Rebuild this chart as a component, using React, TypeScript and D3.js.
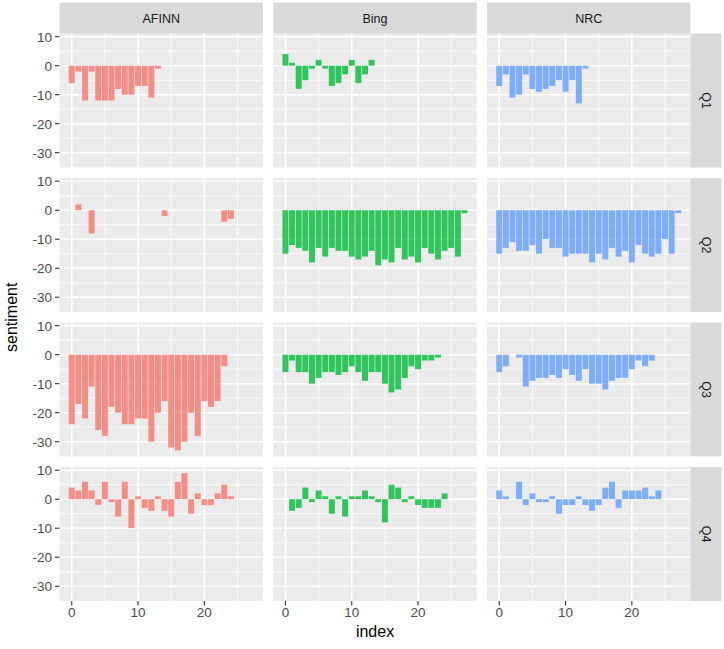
import React from "react";
import * as d3 from "d3";

const lexicons = ["AFINN", "Bing", "NRC"];
const quarters = ["Q1", "Q2", "Q3", "Q4"];
const lexColors = ["#F8766D", "#00BA38", "#619CFF"];

// values by index (null = no bar)
const afinnQ1 = [-6, -2, -12, -2, -12, -12, -12, -8, -10, -10, -7, -7, -11, -1];
const bingQ1 = [4, 1, -8, -5, -1, 2, -1, -7, -6, -3, 2, -6, -3, 2];
const nrcQ1 = [-7, -3, -11, -10, -3, -8, -9, -8, -7, -5, -9, -5, -13, -1];

const afinnQ2 = [null, 2, null, -8, null, null, null, null, null, null, null, null, null, null, -2, null, null, null, null, null, null, null, null, -4, -3];
const bingQ2 = [-15, -12, -13, -14, -18, -13, -16, -13, -14, -14, -16, -17, -16, -14, -19, -17, -18, -13, -17, -16, -18, -13, -15, -17, -14, -13, -16, -1];
const nrcQ2 = [-15, -13, -11, -14, -14, -12, -15, -10, -13, -13, -16, -15, -15, -15, -18, -15, -17, -13, -16, -14, -18, -12, -15, -16, -15, -10, -15, -1];

const afinnQ3 = [-24, -17, -22, -11, -26, -28, -18, -20, -24, -24, -22, -22, -30, -20, -16, -32, -33, -30, -20, -28, -16, -18, -16, -4];
const bingQ3 = [-6, -2, -6, -6, -10, -8, -6, -6, -7, -6, -4, -6, -9, -6, -6, -10, -13, -12, -8, -4, -5, -2, -2, -1];
const nrcQ3 = [-6, -4, null, -1, -11, -9, -8, -8, -7, -8, -5, -7, -9, -5, -10, -10, -12, -9, -8, -8, -5, -2, -4, -2];

const afinnQ4 = [4, 3, 6, 3, -2, 6, -1, -6, 6, -10, 1, -3, -4, 1, -4, -6, 6, 9, -5, 2, -2, -2, 2, 5, 1];
const bingQ4 = [null, -4, -3, 4, -1, 3, 1, -5, 1, -6, 1, 1, 3, 1, -1, -8, 5, 4, -1, 1, -2, -3, -3, -3, 2];
const nrcQ4 = [3, 1, null, 6, -2, 2, -1, -1, 1, -5, -2, -2, 1, -2, -4, -2, 4, 6, -3, 3, 3, 3, 4, 1, 3];

const panelValues = [
  [afinnQ1, bingQ1, nrcQ1],
  [afinnQ2, bingQ2, nrcQ2],
  [afinnQ3, bingQ3, nrcQ3],
  [afinnQ4, bingQ4, nrcQ4],
];

const yTicks = [-30, -20, -10, 0, 10];
const yMinor = [-25, -15, -5, 5];
const xTicks = [0, 10, 20];
const xMinor = [5, 15, 25];

const W = 724;
const H = 649;
const colLeft = [59.5, 273.2, 487];
const panelW = 203.5;
const rowTop = [33.5, 178, 322.5, 467];
const panelH = 134;
const stripSize = 31;

export default function App() {
  const allVals = panelValues.flat(2).filter((v) => v !== null) as number[];
  const maxIdx = d3.max(panelValues.flat(1), (a) => a.length - 1) as number;
  const xLo = -0.45, xHi = maxIdx + 0.45;
  const xPad = (xHi - xLo) * 0.05;
  const yLo = Math.min(0, d3.min(allVals) as number);
  const yHi = Math.max(0, d3.max(allVals) as number);
  const yPad = (yHi - yLo) * 0.05;

  const font = "'Liberation Sans', Arial, Helvetica, sans-serif";

  const panels: React.ReactNode[] = [];
  quarters.forEach((q, r) => {
    const y = d3.scaleLinear().domain([yLo - yPad, yHi + yPad]).range([rowTop[r] + panelH, rowTop[r]]);
    lexicons.forEach((lex, c) => {
      const x = d3.scaleLinear().domain([xLo - xPad, xHi + xPad]).range([colLeft[c], colLeft[c] + panelW]);
      const vals = panelValues[r][c];
      const bw = x(0.9) - x(0);
      panels.push(
        <g key={`p-${r}-${c}`}>
          <rect x={colLeft[c]} y={rowTop[r]} width={panelW} height={panelH} fill="#EBEBEB" />
          {yMinor.map((t) => (
            <line key={`ym${t}`} x1={colLeft[c]} x2={colLeft[c] + panelW} y1={y(t)} y2={y(t)} stroke="#FFFFFF" strokeWidth={0.8} />
          ))}
          {xMinor.map((t) => (
            <line key={`xm${t}`} x1={x(t)} x2={x(t)} y1={rowTop[r]} y2={rowTop[r] + panelH} stroke="#FFFFFF" strokeWidth={0.8} />
          ))}
          {yTicks.map((t) => (
            <line key={`yM${t}`} x1={colLeft[c]} x2={colLeft[c] + panelW} y1={y(t)} y2={y(t)} stroke="#FFFFFF" strokeWidth={1.6} />
          ))}
          {xTicks.map((t) => (
            <line key={`xM${t}`} x1={x(t)} x2={x(t)} y1={rowTop[r]} y2={rowTop[r] + panelH} stroke="#FFFFFF" strokeWidth={1.6} />
          ))}
          {vals.map((v, i) =>
            v === null || v === 0 ? null : (
              <rect
                key={`b${i}`}
                x={x(i - 0.45)}
                width={bw}
                y={y(Math.max(0, v))}
                height={Math.abs(y(v) - y(0))}
                fill={lexColors[c]}
                fillOpacity={0.8}
              />
            )
          )}
        </g>
      );
    });
    panels.push(
      <g key={`ya-${r}`}>
        {yTicks.map((t) => (
          <g key={t}>
            <line x1={colLeft[0] - 4.5} x2={colLeft[0]} y1={y(t)} y2={y(t)} stroke="#333333" strokeWidth={1.1} />
            <text x={colLeft[0] - 7.5} y={y(t)} dy="0.36em" textAnchor="end" fontSize={13.5} fill="#4D4D4D" fontFamily={font}>
              {t}
            </text>
          </g>
        ))}
      </g>
    );
    const sx = colLeft[2] + panelW;
    panels.push(
      <g key={`rs-${r}`}>
        <rect x={sx} y={rowTop[r]} width={stripSize} height={panelH} fill="#D9D9D9" />
        <text
          transform={`translate(${sx + stripSize / 2},${rowTop[r] + panelH / 2}) rotate(90)`}
          textAnchor="middle"
          dy="0.36em"
          fontSize={12.5}
          fill="#1A1A1A"
          fontFamily={font}
        >
          {q}
        </text>
      </g>
    );
  });

  lexicons.forEach((lex, c) => {
    const x = d3.scaleLinear().domain([xLo - xPad, xHi + xPad]).range([colLeft[c], colLeft[c] + panelW]);
    const by = rowTop[3] + panelH;
    panels.push(
      <g key={`ts-${c}`}>
        <rect x={colLeft[c]} y={rowTop[0] - stripSize} width={panelW} height={stripSize} fill="#D9D9D9" />
        <text x={colLeft[c] + panelW / 2} y={rowTop[0] - stripSize / 2} dy="0.36em" textAnchor="middle" fontSize={12.5} fill="#1A1A1A" fontFamily={font}>
          {lex}
        </text>
        {xTicks.map((t) => (
          <g key={t}>
            <line x1={x(t)} x2={x(t)} y1={by} y2={by + 4.5} stroke="#333333" strokeWidth={1.1} />
            <text x={x(t)} y={by + 5} dy="0.8em" textAnchor="middle" fontSize={13.5} fill="#4D4D4D" fontFamily={font}>
              {t}
            </text>
          </g>
        ))}
      </g>
    );
  });

  return (
    <svg width={W} height={H} style={{ position: "absolute", left: 0, top: 0, background: "#FFFFFF" }}>
      <rect x={0} y={0} width={W} height={H} fill="#FFFFFF" />
      {panels}
      <text
        transform={`translate(11,${(rowTop[0] + rowTop[3] + panelH) / 2}) rotate(-90)`}
        textAnchor="middle"
        dy="0.36em"
        fontSize={16}
        fill="#000000"
        fontFamily={font}
      >
        sentiment
      </text>
      <text x={(colLeft[0] + colLeft[2] + panelW) / 2} y={631} dy="0.36em" textAnchor="middle" fontSize={16} fill="#000000" fontFamily={font}>
        index
      </text>
    </svg>
  );
}
